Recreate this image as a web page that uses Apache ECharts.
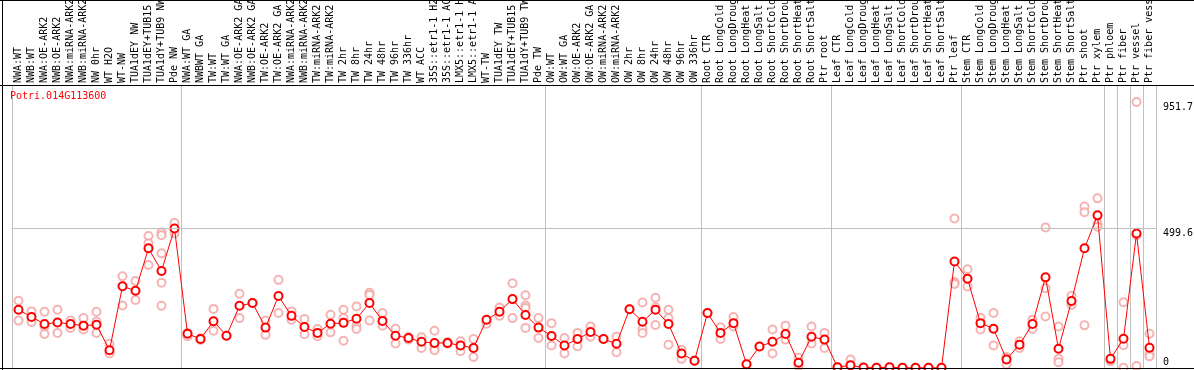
<!DOCTYPE html>
<html>
<head>
<meta charset="utf-8">
<script src="https://cdn.jsdelivr.net/npm/echarts@6/dist/echarts.min.js"></script>
<style>
html,body{margin:0;padding:0;background:#fff;}
#chart{width:1194px;height:370px;}
</style>
</head>
<body>
<div id="chart"></div>
<script>
// ---- data ----
const geneName = 'Potri.014G113600';
const categories = [
 'NWA:WT','NWB:WT','NWA:OE-ARK2','NWB:OE-ARK2','NWA:miRNA-ARK2','NWB:miRNA-ARK2','NW 0hr','WT H2O','WT-NW','TUA1dEY NW','TUA1dEY+TUB15 NW','TUA1dY+TUB9 NW','Pde NW',
 'NWA:WT GA','NWBWT GA','TW:WT','TW:WT GA','NWA:OE-ARK2 GA','NWB:OE-ARK2 GA','TW:OE-ARK2','TW:OE-ARK2 GA','NWA:miRNA-ARK2','NWB:miRNA-ARK2','TW:miRNA-ARK2','TW:miRNA-ARK2','TW 2hr','TW 8hr','TW 24hr','TW 48hr','TW 96hr','TW 336hr','WT ACC','35S::etr1-1 H2O','35S::etr1-1 ACC','LMX5::etr1-1 H2O','LMX5::etr1-1 ACC','WT-TW','TUA1dEY TW','TUA1dEY+TUB15 TW','TUA1dY+TUB9 TW','Pde TW',
 'OW:WT','OW:WT GA','OW:OE-ARK2','OW:OE-ARK2 GA','OW:miRNA-ARK2','OW:miRNA-ARK2','OW 2hr','OW 8hr','OW 24hr','OW 48hr','OW 96hr','OW 336hr',
 'Root CTR','Root LongCold','Root LongDrought','Root LongHeat','Root LongSalt','Root ShortCold','Root ShortDrought','Root ShortHeat','Root ShortSalt','Ptr root',
 'Leaf CTR','Leaf LongCold','Leaf LongDrought','Leaf LongHeat','Leaf LongSalt','Leaf ShortCold','Leaf ShortDrought','Leaf ShortHeat','Leaf ShortSalt','Ptr leaf',
 'Stem CTR','Stem LongCold','Stem LongDrought','Stem LongHeat','Stem LongSalt','Stem ShortCold','Stem ShortDrought','Stem ShortHeat','Stem ShortSalt','Ptr shoot','Ptr xylem',
 'Ptr phloem','Ptr fiber','Ptr vessel','Ptr fiber vessel'
];
const groupStarts = [0, 13, 41, 53, 63, 73, 84, 85, 86, 87, 88];
const meanValues = [
 208,182,157,162,157,151,154,63,292,276,428,347,499,
 122,103,167,115,222,232,144,257,186,146,125,158,161,176,232,168,115,107,93,89,89,80,71,172,201,246,189,144,
 114,80,103,128,103,86,210,165,208,157,51,25,
 196,125,160,13,76,93,121,18,111,101,
 2,9,1,0,2,0,0,0,0,381,
 319,160,140,30,83,157,324,68,239,428,546,
 32,104,481,72
];
const replicateValues = [
 [240,169],[202,164],[201,148,121],[208,125],[169,143],[178,137],[201,166,125],[86,51],[328,223],[311,243],[472,446,368],[485,475,410,305,222],[519,481],
 [113,125],[106,100],[211,133],[115],[265,178],[232],[169,118],[315,196],[202,172],[175,120],[139,113],[190,127],[208,178,97],[220,151,139],[269,261,169],[196,151],[140,87],[110,101],[109,71],[133,71,63],[92,86],[95,59],[103,39],[158],[216,186],[303,178],[260,223,214,143],[178,107],
 [160,80],[107,51],[125,77],[148,111],[103],[111,56],[210],[234,139,125],[251,217,153],[208,178,83],[65,32],[25],
 [196],[145,103],[182,148],[13],[76],[137,51],[151,101],[36,6],[148,87],[125,71],
 [2],[30],[1],[0],[2],[0],[0],[0],[0],[535,307,300],
 [353,291],[179,137],[196,80],[39,12],[95,71],[172,139],[503,285,184],[148,32,20],[258,225],[578,557,152],[607,517,505],
 [24],[235,81,0],[952,6,475],[122,51,41]
];
const yTickValues = [499.6, 951.7];
const yZeroTick = [0];
const gridLineValue = 499.6;
const yMax = 1013;

// ---- build ----
const repData = [];
replicateValues.forEach((arr, i) => arr.forEach(v => repData.push([i, v])));
const boundarySet = new Set(groupStarts);
const isBoundary = (idx) => boundarySet.has(idx);
const mono = 'DejaVu Sans Mono';

const chart = echarts.init(document.getElementById('chart'), null, {renderer: 'canvas'});
chart.setOption({
  animation: false,
  title: {
    text: geneName, left: 10, top: 91, padding: 0,
    textStyle: {fontFamily: mono, fontSize: 10, color: '#ff0000', fontWeight: 'normal'}
  },
  grid: {left: 12, right: 38, top: 85, bottom: 2.2, containLabel: false, outerBoundsMode: 'none'},
  xAxis: {
    type: 'category', data: categories, position: 'top', boundaryGap: true,
    axisLine: {show: true, lineStyle: {color: '#000', width: 1}},
    axisTick: {show: true, length: 85, interval: (i) => isBoundary(i), lineStyle: {color: '#c0c0c0', width: 1}},
    splitLine: {show: true, interval: (i) => isBoundary(i), lineStyle: {color: '#c0c0c0', width: 1}},
    axisLabel: {interval: 0, rotate: 90, margin: 2, hideOverlap: false, fontFamily: mono, fontSize: 10, color: '#000'}
  },
  yAxis: [
    {type: 'value', position: 'right', min: 0, max: yMax,
     axisLine: {show: false}, axisTick: {show: false}, splitLine: {show: false},
     axisLabel: {customValues: yTickValues, formatter: (v) => String(v), verticalAlign: 'top', margin: 7,
                 fontFamily: mono, fontSize: 10, color: '#000'}},
    {type: 'value', position: 'right', min: 0, max: yMax,
     axisLine: {show: false}, axisTick: {show: false}, splitLine: {show: false},
     axisLabel: {customValues: yZeroTick, formatter: (v) => String(v), verticalAlign: 'bottom', margin: 7,
                 fontFamily: mono, fontSize: 10, color: '#000'}}
  ],
  series: [
    {type: 'scatter', data: repData, symbol: 'emptyCircle', symbolSize: 8, z: 2,
     itemStyle: {color: '#f2a0a0', borderWidth: 1.3}, silent: true},
    {type: 'line', data: meanValues, symbol: 'emptyCircle', symbolSize: 8, z: 3,
     lineStyle: {color: '#ff0000', width: 1}, itemStyle: {color: '#ff0000', borderWidth: 1.5},
     markLine: {silent: true, symbol: 'none', label: {show: false},
       lineStyle: {color: '#c0c0c0', type: 'solid', width: 1}, data: [{yAxis: gridLineValue}]}}
  ],
  graphic: [
    {type: 'line', shape: {x1: 0, y1: 85.5, x2: 1194, y2: 85.5}, style: {stroke: '#000', lineWidth: 1}, silent: true, z: 10},
    {type: 'line', shape: {x1: 0, y1: 368.5, x2: 1194, y2: 368.5}, style: {stroke: '#000', lineWidth: 1}, silent: true, z: 10},
    {type: 'line', shape: {x1: 2.5, y1: 0, x2: 2.5, y2: 370}, style: {stroke: '#000', lineWidth: 1}, silent: true, z: 10},
    {type: 'line', shape: {x1: 0, y1: 0.5, x2: 1194, y2: 0.5}, style: {stroke: '#000', lineWidth: 1}, silent: true, z: 10}
  ]
});
</script>
</body>
</html>
